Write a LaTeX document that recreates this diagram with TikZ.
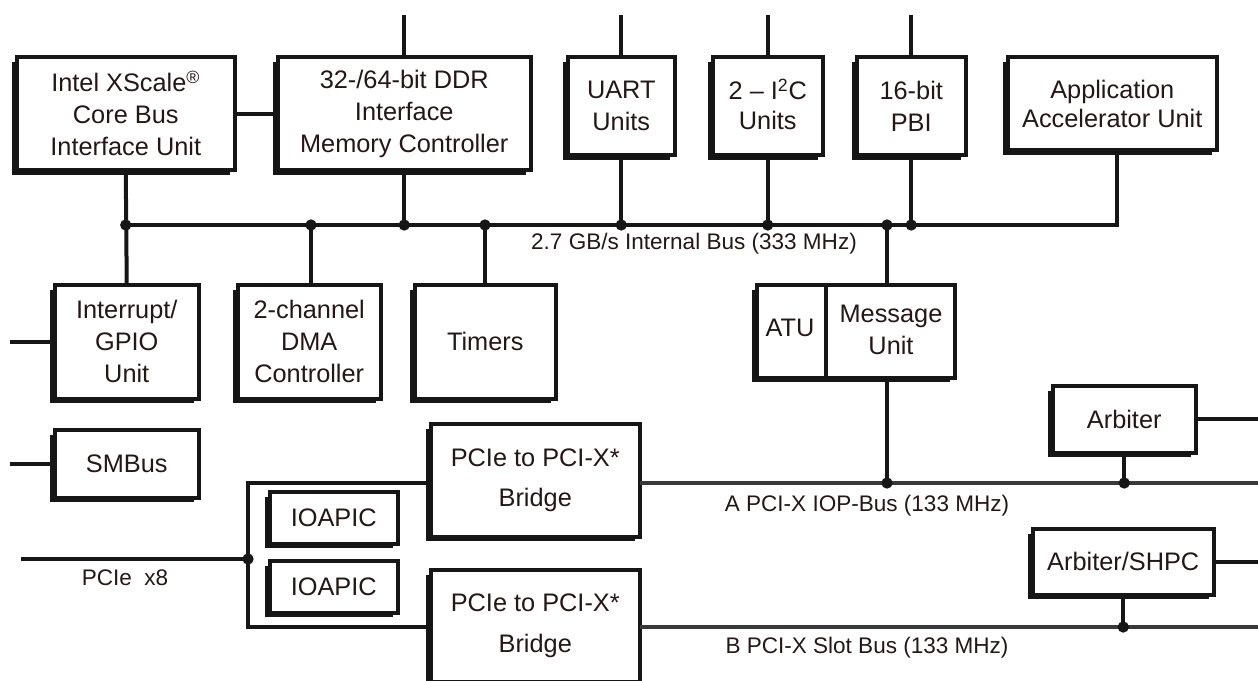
\documentclass[tikz,border=0pt]{standalone}
\usepackage{fontspec}
\setmainfont{Liberation Sans}
\usetikzlibrary{shadows}
\definecolor{txt}{RGB}{38,22,22}
\definecolor{ln}{RGB}{22,22,22}
\newcommand\bx[7][]{\node[blk, #1, minimum width={(#5-#3-6.5)*0.75pt}, minimum height={(#6-#4-6.5)*0.75pt}] (#2) at ({(#3+#5+2.5)/2},{(#4+#6-2.5)/2}) {#7};}
\begin{document}
\begin{tikzpicture}[x=0.75pt,y=-0.75pt,
  blk/.style={draw=ln, line width=3pt, fill=white, inner sep=0pt, outer sep=0pt, align=center, text=txt,
    font=\fontsize{19}{24}\selectfont,
    drop shadow={shadow xshift=-3.4pt, shadow yshift=-3.4pt, opacity=1, fill=ln}},
  wire/.style={draw=ln, line width=3pt},
  thinwire/.style={draw=ln, line width=2.4pt},
  busw/.style={draw=ln!85!white, line width=2.6pt},
  lbl/.style={text=txt, font=\fontsize{16.9}{20}\selectfont, inner sep=0pt},
  btxt/.style={text=txt, font=\fontsize{19}{24}\selectfont, inner sep=0pt, align=center},
  dot/.style={circle, fill=ln, inner sep=0pt, minimum size=8.5pt}
]
\useasboundingbox (0,0) rectangle (1258,681);
\clip (0,0) rectangle (1258,681);

% boxes
\bx{intel}{12}{55}{237}{175}{Intel XScale\textsuperscript{®}\\Core Bus\\Interface Unit}
\bx{ddr}{273}{55}{533}{175}{32-/64-bit DDR\\Interface\\Memory Controller}
\bx{uart}{563}{55}{677}{160}{UART\\Units}
\bx[font=\fontsize{19}{22.5}\selectfont]{iic}{708}{55}{825}{160}{2 – I\smash{\textsuperscript{2}}C\\Units}
\bx{pbi}{852}{55}{968}{160}{16-bit\\PBI}
\bx[font=\fontsize{19}{22}\selectfont]{app}{1003}{55}{1219}{155}{Application\\Accelerator Unit}
\bx{gpio}{50}{283}{201}{403}{Interrupt/\\GPIO\\Unit}
\bx{dma}{233}{283}{383}{403}{2-channel\\DMA\\Controller}
\bx{timers}{410}{283}{558}{403}{Timers}
\bx{atu}{752}{283}{957}{382}{}
\bx{smbus}{50}{428}{201}{502}{SMBus}
\bx{ioa}{265}{490}{400}{548}{IOAPIC}
\bx{iob}{265}{559}{400}{617}{IOAPIC}
\bx[font=\fontsize{19}{30.5}\selectfont]{bra}{426}{422}{642}{541}{PCIe to PCI-X*\\Bridge}
\bx[font=\fontsize{19}{30.5}\selectfont]{brb}{426}{568}{642}{686}{PCIe to PCI-X*\\Bridge}
\bx{arb}{1048}{384}{1198}{457}{Arbiter}
\bx{shpc}{1028}{527}{1216}{599}{Arbiter/SHPC}

% ATU / Message unit split
\coordinate (div) at (826,0);
\draw[thinwire] (atu.north -| div) -- (atu.south -| div);
\node[btxt] (atut) at (790,328) {ATU};
\node[btxt] (msgt) at (891,330) {Message\\Unit};

% named coordinates
\coordinate (busL) at (127,225);
\coordinate (busR) at (1117,225);
\coordinate (top) at (0,15);
\coordinate (edgeL) at (10,0);
\coordinate (edgeR) at (1258,0);
\coordinate (atux) at (887,0);
\coordinate (dmax) at (311,0);
\coordinate (timx) at (485,0);
\coordinate (abus) at (0,483);
\coordinate (bbus) at (0,627);
\coordinate (jn) at (248,559);
\coordinate (pcieL) at (21,559);

% top stubs
\draw[wire] (ddr.north) -- (ddr.north |- top);
\draw[wire] (uart.north) -- (uart.north |- top);
\draw[wire] (iic.north) -- (iic.north |- top);
\draw[wire] (pbi.north) -- (pbi.north |- top);

% internal bus
\draw[wire] (intel.east) -- (ddr.west);
\draw[wire] (busL) -- (busR) -- (busR |- app.south);
\draw[wire] (intel.south) -- (gpio.north);
\draw[wire] (ddr.south) -- (ddr.south |- busL);
\draw[wire] (uart.south) -- (uart.south |- busL);
\draw[wire] (iic.south) -- (iic.south |- busL);
\draw[wire] (pbi.south) -- (pbi.south |- busL);
\draw[wire] (dmax |- busL) -- (dmax |- dma.north);
\draw[wire] (timx |- busL) -- (timx |- timers.north);
\draw[wire] (atux |- busL) -- (atux |- atu.north);
\draw[wire] (atux |- atu.south) -- (atux |- abus);

\node[dot] (d1) at (intel.south |- busL) {};
\node[dot] (d2) at (dmax |- busL) {};
\node[dot] (d3) at (ddr.south |- busL) {};
\node[dot] (d4) at (timx |- busL) {};
\node[dot] (d5) at (uart.south |- busL) {};
\node[dot] (d6) at (iic.south |- busL) {};
\node[dot] (d7) at (atux |- busL) {};
\node[dot] (d8) at (pbi.south |- busL) {};
\node[lbl] (ibus) at (694,244) {2.7 GB/s Internal Bus (333 MHz)};

% left stubs
\draw[wire] (gpio.west) -- (gpio.west -| edgeL);
\draw[wire] (smbus.west) -- (smbus.west -| edgeL);

% PCIe
\draw[thinwire] (pcieL) -- (jn);
\draw[thinwire] (bra.west |- abus) -| (jn) |- (brb.west |- bbus);
\node[dot] (dj) at (jn) {};
\node[lbl] (pcie) at (125,578) {PCIe\ \ x8};

% PCI-X buses
\draw[busw] (bra.east |- abus) -- (edgeR |- abus);
\draw[busw] (brb.east |- bbus) -- (edgeR |- bbus);
\node[lbl] (alab) at (867,506) {A PCI-X IOP-Bus (133 MHz)};
\node[lbl] (blab) at (867,648) {B PCI-X Slot Bus (133 MHz)};

\draw[wire] (arb.east) -- (arb.east -| edgeR);
\draw[wire] (arb.south) -- (arb.south |- abus);
\draw[wire] (shpc.east) -- (shpc.east -| edgeR);
\draw[wire] (shpc.south) -- (shpc.south |- bbus);
\node[dot] (da) at (atux |- abus) {};
\node[dot] (db) at (arb.south |- abus) {};
\node[dot] (dc) at (shpc.south |- bbus) {};
\end{tikzpicture}
\end{document}
